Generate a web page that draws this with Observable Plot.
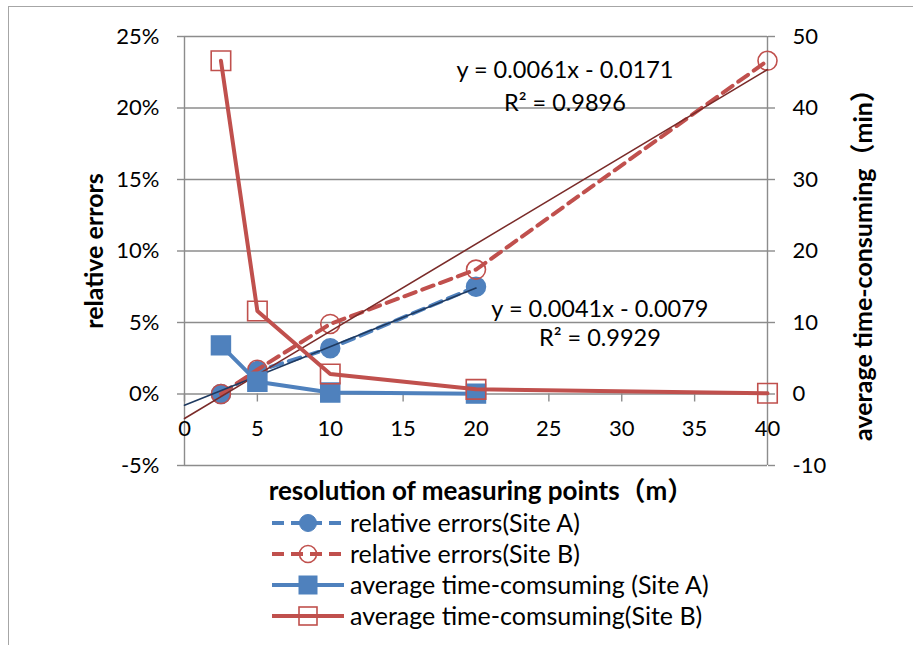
<!DOCTYPE html>
<html><head><meta charset="utf-8">
<script src="https://cdn.jsdelivr.net/npm/d3@7"></script>
<script src="https://cdn.jsdelivr.net/npm/@observablehq/plot@0.6"></script>
<style>
body{margin:0;background:#fff;}
#wrap{position:relative;width:913px;height:645px;overflow:hidden;font-family:Lato,"Noto Sans","Noto Sans CJK SC",sans-serif;color:#000}
#border{position:absolute;left:8px;top:6px;width:1200px;height:1200px;border:1.5px solid #a6a6a6;box-sizing:border-box}
#chart{position:absolute;left:0;top:0}
.title{position:absolute;font-weight:bold;white-space:nowrap;line-height:1}
#legend{position:absolute;left:270px;top:507px;font-size:25px;line-height:1}
.row{display:flex;align-items:center;height:31px}
.row svg{margin-right:4px}
</style></head>
<body>
<div id="wrap">
  <div id="border"></div>
  <div id="chart"></div>
  <div class="title" id="ytitle" style="font-size:25px;left:93px;top:251px;transform:translate(-50%,-50%) rotate(-90deg)">relative errors</div>
  <div class="title" id="y2title" style="font-size:25px;left:862px;top:259px;transform:translate(-50%,-50%) rotate(-90deg)">average time-consuming（min）</div>
  <div class="title" id="xtitle" style="font-size:26px;left:481px;top:490px;transform:translate(-50%,-50%)">resolution of measuring points（m）</div>
  <div id="legend"></div>
</div>
<script>
// ---- data ----
const resolution = [2.5, 5, 10, 20, 40];           // m
const relErrA = [0.000, 0.016, 0.032, 0.075];       // Site A (x = 2.5,5,10,20)
const relErrB = [0.000, 0.017, 0.049, 0.087, 0.233]; // Site B
const timeA = [6.8, 1.7, 0.2, 0.05];                // min
const timeB = [46.6, 11.6, 2.8, 0.65, 0.1];         // min
const trendA = {slope: 0.0041, intercept: -0.0079, from: 0, to: 20, r2: 0.9929};
const trendB = {slope: 0.0061, intercept: -0.0171, from: 0, to: 40, r2: 0.9896};
const xTicks = [0, 5, 10, 15, 20, 25, 30, 35, 40];
const yTicks = [-0.05, 0, 0.05, 0.10, 0.15, 0.20, 0.25];
const y2Ticks = [-10, 0, 10, 20, 30, 40, 50];
const seriesNames = ["relative errors(Site A)", "relative errors(Site B)", "average time-comsuming (Site A)", "average time-comsuming(Site B)"];

const blue = "#4F81BD", red = "#C0504D", navy = "#1F3A60", darkRed = "#7A2B29", gridC = "#8c8c8c";
const y2Factor = 0.25 / 50; // secondary axis: 50 min <-> 25%

const relA = relErrA.map((v, i) => ({x: resolution[i], y: v}));
const relB = relErrB.map((v, i) => ({x: resolution[i], y: v}));
const tA = timeA.map((v, i) => ({x: resolution[i], y: v * y2Factor}));
const tB = timeB.map((v, i) => ({x: resolution[i], y: v * y2Factor}));
const trendPts = t => [t.from, t.to].map(x => ({x, y: t.slope * x + t.intercept}));
const eq = t => `y = ${t.slope.toFixed(4)}x - ${Math.abs(t.intercept).toFixed(4)}`;

const font = 'Lato, "Noto Sans", sans-serif';
const chart = Plot.plot({
  width: 913, height: 645,
  marginLeft: 184, marginRight: 146, marginTop: 36, marginBottom: 180,
  style: {fontFamily: font, fontSize: "22px", color: "#000", background: "transparent", overflow: "visible"},
  x: {domain: [0, 40], axis: null},
  y: {domain: [-0.05, 0.25], axis: null},
  marks: [
    Plot.ruleY(yTicks, {stroke: gridC, strokeWidth: 1.4, strokeOpacity: 1}),
    Plot.ruleX([0, 40], {stroke: gridC, strokeWidth: 1.4}),
    Plot.ruleX(xTicks, {x: d => d, y1: 0, y2: -0.0056, stroke: gridC, strokeWidth: 1.4}),
    Plot.text(xTicks, {x: d => d, y: 0, dy: 35, text: d => String(d), fontSize: 22}),
    Plot.axisY({ticks: yTicks, tickFormat: d => Math.round(d * 100) + "%", tickSize: 7, tickPadding: 18, stroke: gridC, strokeWidth: 1.4, label: null, fontSize: 22}),
    Plot.axisY({anchor: "right", ticks: yTicks, tickFormat: (d, i) => String(y2Ticks[i]), tickSize: 7, tickPadding: 18, stroke: gridC, strokeWidth: 1.4, label: null, fontSize: 22}),
    // relative errors
    Plot.line(relA, {x: "x", y: "y", stroke: blue, strokeWidth: 4, strokeDasharray: "12,7"}),
    Plot.dot(relA, {x: "x", y: "y", r: 9.5, fill: blue, stroke: blue}),
    Plot.line(relB, {x: "x", y: "y", stroke: red, strokeWidth: 4, strokeDasharray: "12,7"}),
    Plot.dot(relB, {x: "x", y: "y", r: 9.5, fill: "none", stroke: red, strokeWidth: 1.6}),
    // trendlines
    Plot.line(trendPts(trendA), {x: "x", y: "y", stroke: navy, strokeWidth: 1.6}),
    Plot.line(trendPts(trendB), {x: "x", y: "y", stroke: darkRed, strokeWidth: 1.6}),
    // time consuming (secondary axis)
    Plot.line(tA, {x: "x", y: "y", stroke: blue, strokeWidth: 4}),
    Plot.dot(tA, {x: "x", y: "y", symbol: "square", r: 10.7, fill: blue, stroke: blue}),
    Plot.line(tB, {x: "x", y: "y", stroke: red, strokeWidth: 4}),
    Plot.dot(tB, {x: "x", y: "y", symbol: "square", r: 11, fill: "none", stroke: red, strokeWidth: 1.6}),
    // equations
    Plot.text([eq(trendB)], {x: 26.1, y: 0.2262, text: d => d, fontSize: 23.5}),
    Plot.text([`R² = ${trendB.r2.toFixed(4)}`], {x: 26.1, y: 0.2035, text: d => d, fontSize: 23.5}),
    Plot.text([eq(trendA)], {x: 28.5, y: 0.0593, text: d => d, fontSize: 23.5}),
    Plot.text([`R² = ${trendA.r2.toFixed(4)}`], {x: 28.5, y: 0.0388, text: d => d, fontSize: 23.5})
  ]
});
document.getElementById("chart").appendChild(chart);

// legend
const styles = [
  {c: blue, dash: "12,7", sym: "circle", fill: blue},
  {c: red, dash: "12,7", sym: "circle", fill: "none"},
  {c: blue, dash: null, sym: "square", fill: blue},
  {c: red, dash: null, sym: "square", fill: "none"}
];
const leg = document.getElementById("legend");
seriesNames.forEach((name, i) => {
  const s = styles[i];
  const row = document.createElement("div");
  row.className = "row";
  const marker = s.sym === "circle"
    ? `<circle cx="38" cy="15" r="8.5" fill="${s.fill === "none" ? "none" : s.fill}" stroke="${s.c}" stroke-width="${s.fill === "none" ? 1.6 : 1}"/>`
    : `<rect x="29" y="6" width="18" height="18" fill="${s.fill}" stroke="${s.c}" stroke-width="${s.fill === "none" ? 1.6 : 1}"/>`;
  row.innerHTML = `<svg width="76" height="30"><line x1="2" y1="15" x2="74" y2="15" stroke="${s.c}" stroke-width="4" ${s.dash ? `stroke-dasharray="${s.dash}"` : ""}/>${marker}</svg><span>${name}</span>`;
  leg.appendChild(row);
});
</script>
</body></html>
